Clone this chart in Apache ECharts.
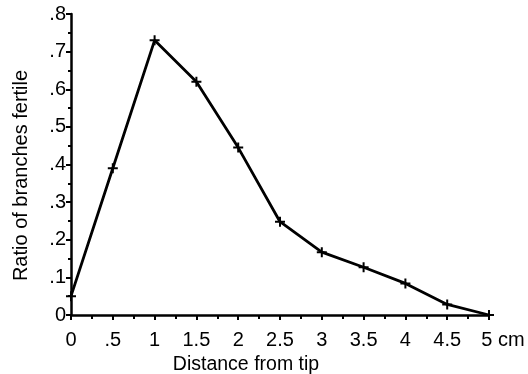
<!DOCTYPE html>
<html>
<head>
<meta charset="UTF-8">
<title>Ratio of branches fertile</title>
<style>
  html, body { margin: 0; padding: 0; background: #fff; }
  #chart { width: 528px; height: 374px; }
</style>
<script src="https://cdn.jsdelivr.net/npm/echarts@6/dist/echarts.min.js"></script>
</head>
<body>
<div id="chart"></div>
<script>
// distance from tip (cm) and ratio of fertile branches
const distance = [0, 0.5, 1, 1.5, 2, 2.5, 3, 3.5, 4, 4.5, 5];
const ratio = [0.05, 0.39, 0.73, 0.62, 0.445, 0.248, 0.167, 0.127, 0.084, 0.028, 0];

const xTickLabels = ['0', '.5', '1', '1.5', '2', '2.5', '3', '3.5', '4', '4.5', '5'];
const yTickLabels = ['0', '.1', '.2', '.3', '.4', '.5', '.6', '.7', '.8'];

const font = 'Liberation Sans, Arial, sans-serif';
const chart = echarts.init(document.getElementById('chart'));

const option = {
  animation: false,
  grid: { left: 71, right: 39, top: 14, bottom: 59, outerBoundsMode: 'none' },
  xAxis: {
    type: 'value',
    min: 0,
    max: 5,
    interval: 0.5,
    name: 'Distance from tip',
    nameLocation: 'middle',
    nameGap: 38,
    nameTextStyle: { color: '#000', fontFamily: font, fontSize: 19.5, padding: [0, 68, 0, 0] },
    axisLine: { lineStyle: { color: '#000', width: 2.5 } },
    axisTick: { length: 5, lineStyle: { color: '#000', width: 2 } },
    minorTick: { show: true, splitNumber: 2, length: 4, lineStyle: { color: '#000', width: 2 } },
    splitLine: { show: false },
    axisLabel: {
      color: '#000', fontFamily: font, fontSize: 20, margin: 15,
      formatter: function (v) {
        const i = Math.round(v * 2);
        // last label carries the unit, with the digit kept on its tick
        if (i === 10) return '{a|' + xTickLabels[i] + '}{b| cm}';
        return xTickLabels[i];
      },
      rich: {
        a: { fontFamily: font, fontSize: 20, color: '#000', padding: [0, 0, 0, 28] },
        b: { fontFamily: font, fontSize: 20, color: '#000' }
      }
    }
  },
  yAxis: {
    type: 'value',
    min: 0,
    max: 0.8,
    interval: 0.1,
    name: 'Ratio of branches fertile',
    nameLocation: 'middle',
    nameGap: 40,
    nameTextStyle: { color: '#000', fontFamily: font, fontSize: 20, padding: [0, 22, 0, 0] },
    axisLine: { show: true, lineStyle: { color: '#000', width: 2.5 } },
    axisTick: { show: true, length: 5, lineStyle: { color: '#000', width: 2 } },
    minorTick: { show: true, splitNumber: 2, length: 3, lineStyle: { color: '#000', width: 2 } },
    splitLine: { show: false },
    axisLabel: {
      color: '#000', fontFamily: font, fontSize: 20, margin: 5,
      formatter: function (v) { return yTickLabels[Math.round(v * 10)]; }
    }
  },
  series: [{
    type: 'line',
    data: distance.map((d, i) => [d, ratio[i]]),
    symbol: 'path://M4,0H6V4H10V6H6V10H4V6H0V4H4Z',
    symbolSize: 10,
    showAllSymbol: true,
    lineStyle: { color: '#000', width: 2.8 },
    itemStyle: { color: '#000' }
  }]
};

chart.setOption(option);
</script>
</body>
</html>
